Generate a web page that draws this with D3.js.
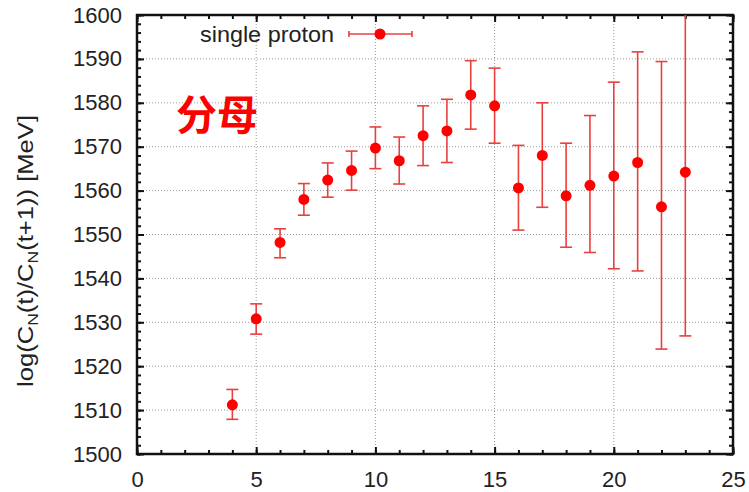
<!DOCTYPE html>
<html><head><meta charset="utf-8">
<script src="https://cdn.jsdelivr.net/npm/d3@7"></script>
<style>body{margin:0;background:#fff}svg{display:block}</style>
</head><body>
<svg id="c" width="749" height="492"></svg>
<script>
const tValues = [4,5,6,7,8,9,10,11,12,13,14,15,16,17,18,19,20,21,22,23];
const energies = [1511.2,1530.8,1548.2,1558.0,1562.4,1564.6,1569.7,1566.8,1572.5,1573.6,1581.8,1579.3,1560.6,1568.0,1558.8,1561.2,1563.3,1566.4,1556.3,1564.2];
const errLow = [1507.9,1527.3,1544.7,1554.4,1558.5,1560.1,1565.0,1561.5,1565.7,1566.4,1574.0,1570.8,1551.0,1556.2,1547.1,1545.9,1542.2,1541.7,1523.9,1526.9];
const errHigh = [1514.7,1534.2,1551.3,1561.6,1566.3,1569.0,1574.5,1572.2,1579.3,1580.8,1589.6,1587.9,1570.3,1580.0,1570.8,1577.1,1584.7,1591.6,1589.4,1601.5];
const xTicks = [0,5,10,15,20,25];
const yTicks = [1500,1510,1520,1530,1540,1550,1560,1570,1580,1590,1600];
const seriesName = "single proton";
const annotation = "分母";

const svg = d3.select("#c");
const L=137, R=733, T=15, B=454;
const x = d3.scaleLinear().domain([0,25]).range([L,R]);
const y = d3.scaleLinear().domain([1500,1600]).range([B,T]);
const red = "#ff0000", barRed = "#e8403f";
const font = "'Liberation Sans', Arial, sans-serif";

// grid
const g = svg.append("g");
g.selectAll(".gx").data(xTicks.slice(1,-1)).join("line")
  .attr("x1",d=>x(d)).attr("x2",d=>x(d)).attr("y1",T).attr("y2",B)
  .attr("stroke","#9a9a9a").attr("stroke-width",1).attr("stroke-dasharray","1,2");
g.selectAll(".gy").data(yTicks.slice(1,-1)).join("line")
  .attr("x1",L).attr("x2",R).attr("y1",d=>y(d)).attr("y2",d=>y(d))
  .attr("stroke","#9a9a9a").attr("stroke-width",1).attr("stroke-dasharray","1,2");

// axes: ticks inward on all sides
function axisG(axis, tr){ return svg.append("g").attr("transform",tr).call(axis); }
const xMinor = d3.range(0,26,1), yMinor = d3.range(1500,1601,2);
const axB = axisG(d3.axisBottom(x).tickValues(xTicks).tickSize(-7).tickPadding(17).tickFormat(d3.format("d")), `translate(0,${B})`);
axisG(d3.axisBottom(x).tickValues(xMinor).tickSize(-4).tickFormat(""), `translate(0,${B})`);
axisG(d3.axisTop(x).tickValues(xTicks).tickSize(-7).tickFormat(""), `translate(0,${T})`);
axisG(d3.axisTop(x).tickValues(xMinor).tickSize(-4).tickFormat(""), `translate(0,${T})`);
const axL = axisG(d3.axisLeft(y).tickValues(yTicks).tickSize(-7).tickPadding(15).tickFormat(d3.format("d")), `translate(${L},0)`);
axisG(d3.axisLeft(y).tickValues(yMinor).tickSize(-4).tickFormat(""), `translate(${L},0)`);
axisG(d3.axisRight(y).tickValues(yTicks).tickSize(-7).tickFormat(""), `translate(${R},0)`);
axisG(d3.axisRight(y).tickValues(yMinor).tickSize(-4).tickFormat(""), `translate(${R},0)`);
svg.selectAll(".domain").remove();
svg.selectAll(".tick line").attr("stroke","#111").attr("stroke-width",2);
svg.selectAll(".tick text").attr("font-family",font).attr("font-size",22).attr("fill","#222");
axB.selectAll(".tick text").attr("dy","0.71em");
// frame
svg.append("rect").attr("x",L).attr("y",T).attr("width",R-L).attr("height",B-T)
  .attr("fill","none").attr("stroke","#111").attr("stroke-width",2.5);

// clip for data
svg.append("clipPath").attr("id","clip").append("rect").attr("x",L).attr("y",T).attr("width",R-L).attr("height",B-T);
const data = tValues.map((t,i)=>({t, v:energies[i], lo:errLow[i], hi:errHigh[i]}));
const dg = svg.append("g").attr("clip-path","url(#clip)");
const cap = 6;
const eb = dg.selectAll("g.eb").data(data).join("g");
eb.append("line").attr("x1",d=>x(d.t)).attr("x2",d=>x(d.t)).attr("y1",d=>y(d.lo)).attr("y2",d=>y(d.hi))
  .attr("stroke",barRed).attr("stroke-width",1.6);
eb.append("line").attr("x1",d=>x(d.t)-cap).attr("x2",d=>x(d.t)+cap).attr("y1",d=>y(d.lo)).attr("y2",d=>y(d.lo))
  .attr("stroke",barRed).attr("stroke-width",1.6);
eb.filter(d=>d.hi<=1600).append("line").attr("x1",d=>x(d.t)-cap).attr("x2",d=>x(d.t)+cap).attr("y1",d=>y(d.hi)).attr("y2",d=>y(d.hi))
  .attr("stroke",barRed).attr("stroke-width",1.6);
dg.selectAll("circle").data(data).join("circle")
  .attr("cx",d=>x(d.t)).attr("cy",d=>y(d.v)).attr("r",5.5).attr("fill",red);

// legend
const ly = 34;
svg.append("text").attr("x",200).attr("y",ly).attr("dy","0.35em")
  .attr("textLength",134).attr("lengthAdjust","spacingAndGlyphs")
  .attr("font-family",font).attr("font-size",22).attr("fill","#222").text(seriesName);
svg.append("line").attr("x1",349).attr("x2",412).attr("y1",ly).attr("y2",ly).attr("stroke",barRed).attr("stroke-width",1.6);
[349,412].forEach(px=>svg.append("line").attr("x1",px).attr("x2",px).attr("y1",ly-3).attr("y2",ly+3).attr("stroke",barRed).attr("stroke-width",1.6));
svg.append("circle").attr("cx",380).attr("cy",ly).attr("r",5.5).attr("fill",red);

// annotation
svg.append("text").attr("x",176).attr("y",130).attr("font-family","'Noto Sans CJK SC', sans-serif")
  .attr("font-weight","bold").attr("font-size",41).attr("fill","#ff0000").text(annotation);

// y label
const yl = svg.append("text").attr("transform","translate(33,251) rotate(-90)").attr("text-anchor","middle")
  .attr("font-family",font).attr("font-size",22).attr("fill","#222")
  .attr("textLength",272).attr("lengthAdjust","spacingAndGlyphs");
yl.append("tspan").text("log(C");
yl.append("tspan").attr("font-size",15).attr("dy",5).text("N");
yl.append("tspan").attr("dy",-5).text("(t)/C");
yl.append("tspan").attr("font-size",15).attr("dy",5).text("N");
yl.append("tspan").attr("dy",-5).text("(t+1)) [MeV]");
</script>
</body></html>
